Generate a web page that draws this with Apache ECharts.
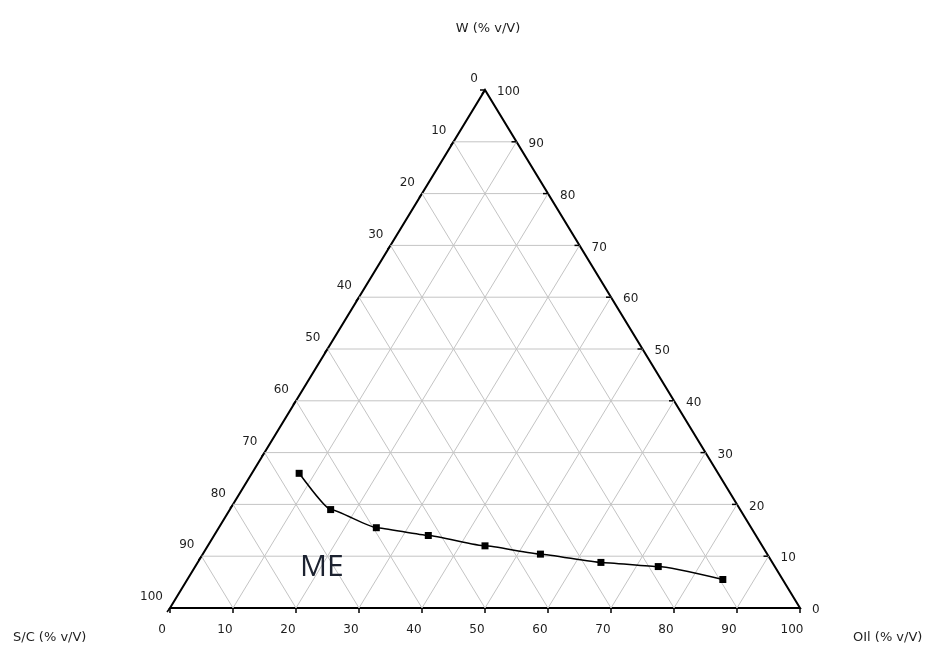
<!DOCTYPE html>
<html>
<head>
<meta charset="utf-8">
<script src="https://cdn.jsdelivr.net/npm/echarts@6/dist/echarts.min.js"></script>
<style>
  html, body { margin: 0; padding: 0; background: #fff; }
  #chart { width: 941px; height: 646px; }
</style>
</head>
<body>
<div id="chart"></div>
<script>
// ternary tick values (%)
const ticks = [0, 10, 20, 30, 40, 50, 60, 70, 80, 90, 100]

// ME boundary points (% v/v)
const scVals = [66.5, 65, 59.5, 52, 44, 36, 27.2, 18.5, 9.5]
const wVals = [26, 19, 15.5, 14, 12, 10.4, 8.8, 8, 5.5]
const oilVals = [7.5, 16, 25, 34, 44, 53.6, 64, 73.5, 85]

const axisNames = ['W (% v/V)', 'S/C (% v/V)', 'OIl (% v/V)']
const regionLabel = 'ME'

// ternary (oil, w) -> plot x/y on 0..100 axes
const toXY = (oil, w) => [oil + w / 2, w]

const chart = echarts.init(document.getElementById('chart'))

const gridColor = '#c4c4c4'
const textColor = '#1e1e1e'
const labelFont = '12px "DejaVu Sans", sans-serif'

const renderFrame = (params, api) => {
  const t = api.value(0)
  const children = []
  const line = (a, b, stroke, width) => ({
    type: 'line',
    shape: { x1: a[0], y1: a[1], x2: b[0], y2: b[1] },
    style: { stroke, lineWidth: width },
    silent: true
  })
  const text = (x, y, str, align, vAlign) => ({
    type: 'text',
    x, y,
    style: { text: str, fill: textColor, font: labelFont, align, verticalAlign: vAlign },
    silent: true
  })

  if (t > 0 && t < 100) {
    // W constant (horizontal)
    children.push(line(api.coord(toXY(0, t)), api.coord(toXY(100 - t, t)), gridColor, 1))
    // oil constant
    children.push(line(api.coord(toXY(t, 0)), api.coord(toXY(t, 100 - t)), gridColor, 1))
    // S/C constant
    children.push(line(api.coord(toXY(100 - t, 0)), api.coord(toXY(0, 100 - t)), gridColor, 1))
  }

  // bottom axis (oil)
  const b = api.coord(toXY(t, 0))
  children.push(line([b[0], b[1]], [b[0], b[1] + 5], '#000', 1.5))
  children.push(text(b[0] - 8, b[1] + 22, String(t), 'center', 'middle'))

  // left axis (S/C), 0 at the top
  const l = api.coord(toXY(0, 100 - t))
  children.push(line([l[0], l[1]], [l[0] - 3, l[1] + 4], '#000', 1.5))
  children.push(text(l[0] - 7, l[1] - 11, String(t), 'right', 'middle'))

  // right axis (W)
  const r = api.coord(toXY(100 - t, t))
  children.push(line([r[0], r[1]], [r[0] - 5, r[1]], '#000', 1.5))
  children.push(text(r[0] + 12, r[1] + 2, String(t), 'left', 'middle'))

  if (params.dataIndex === 0) {
    const pA = api.coord(toXY(0, 0))
    const pB = api.coord(toXY(100, 0))
    const pC = api.coord(toXY(0, 100))
    children.push({
      type: 'polygon',
      shape: { points: [pA, pB, pC] },
      style: { fill: 'none', stroke: '#000', lineWidth: 2 },
      silent: true
    })
  }
  return { type: 'group', children }
}

const titleStyle = { fontSize: 13, fontWeight: 'normal', color: textColor, fontFamily: 'DejaVu Sans' }

chart.setOption({
  backgroundColor: '#fff',
  animation: false,
  grid: { left: 170, top: 90, width: 630, height: 518 },
  xAxis: { type: 'value', min: 0, max: 100, show: false },
  yAxis: { type: 'value', min: 0, max: 100, show: false },
  title: [
    { text: axisNames[0], left: 483, top: 17, textAlign: 'center', textStyle: titleStyle },
    { text: axisNames[1], left: 8, top: 626, textStyle: titleStyle },
    { text: axisNames[2], left: 848, top: 626, textStyle: titleStyle },
    { text: regionLabel, left: 295, top: 547,
      textStyle: { fontSize: 30, fontWeight: 'normal', color: '#1c2230', fontFamily: 'Open Sans' } }
  ],
  series: [
    {
      type: 'custom',
      name: 'frame',
      silent: true,
      z: 1,
      data: ticks.map(t => [t]),
      renderItem: renderFrame
    },
    {
      type: 'line',
      name: 'ME',
      z: 5,
      smooth: 0.15,
      smoothMonotone: 'x',
      data: oilVals.map((o, i) => toXY(o, wVals[i])),
      symbol: 'rect',
      symbolSize: 7,
      lineStyle: { color: '#000', width: 1.5 },
      itemStyle: { color: '#000' }
    }
  ]
})
</script>
</body>
</html>
